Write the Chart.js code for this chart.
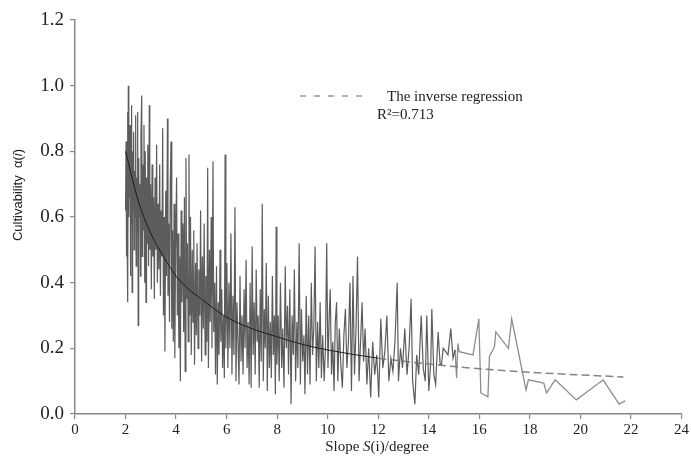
<!DOCTYPE html>
<html><head><meta charset="utf-8">
<script src="https://cdn.jsdelivr.net/npm/chart.js"></script>
<style>html,body{margin:0;padding:0;background:#fff}#wrap{width:691px;height:468px}</style>
</head><body><div id="wrap"><canvas id="c" width="691" height="468"></canvas></div>
<script>
// Slope S(i) (degree) — x values of the observed series
const slope = [
2.00,2.02,2.03,2.05,2.06,2.08,2.09,2.11,2.13,2.14,
2.16,2.18,2.19,2.21,2.23,2.24,2.26,2.28,2.30,2.32,
2.34,2.36,2.38,2.40,2.42,2.44,2.46,2.48,2.50,2.52,
2.54,2.57,2.59,2.61,2.64,2.66,2.68,2.71,2.73,2.76,
2.78,2.81,2.83,2.86,2.88,2.91,2.94,2.96,2.99,3.02,
3.05,3.08,3.11,3.14,3.17,3.20,3.23,3.26,3.29,3.32,
3.35,3.38,3.41,3.44,3.47,3.50,3.53,3.56,3.59,3.62,
3.66,3.68,3.71,3.74,3.77,3.80,3.83,3.86,3.89,3.92,
3.95,3.98,
4.02,4.05,4.08,4.11,4.14,4.17,4.20,4.23,4.27,4.30,
4.33,4.36,4.39,4.42,4.45,4.48,4.51,4.54,4.57,4.60,
4.64,4.67,4.70,4.73,4.77,4.80,4.83,4.87,4.90,4.94,
4.97,5.01,5.04,5.08,5.11,5.15,5.18,5.22,5.25,5.28,
5.32,5.35,5.39,5.42,5.46,5.49,5.53,5.56,5.60,5.63,
5.67,5.70,5.74,5.77,5.81,5.84,5.88,5.91,5.94,5.97,
6.01,6.05,6.09,6.13,6.17,6.21,6.25,6.29,6.33,6.37,
6.41,6.45,6.49,6.53,6.57,6.61,6.65,6.69,6.73,6.77,
6.81,6.85,6.89,6.93,6.97,7.01,7.05,7.09,7.13,7.17,
7.21,7.25,7.29,7.33,7.37,7.41,7.45,7.49,7.53,7.57,
7.61,7.65,7.69,7.73,7.77,7.81,7.85,7.89,7.93,7.96,
7.99,
8.04,8.08,8.13,8.18,8.22,8.27,8.32,8.36,8.41,8.45,
8.50,8.55,8.59,8.64,8.68,8.73,8.78,8.82,8.87,8.92,
8.96,9.01,9.06,9.10,9.15,9.20,9.25,9.30,9.35,9.40,
9.45,9.50,9.55,9.60,9.65,9.70,9.75,9.80,9.86,9.91,
9.96,
10.01,10.06,10.10,10.15,10.20,10.25,10.30,10.35,10.40,10.46,
10.52,10.58,10.64,10.70,10.76,10.82,10.88,10.94,11.00,11.06,
11.12,11.18,11.24,11.30,11.36,11.42,11.48,11.55,11.62,11.70,
11.78,11.86,11.94,12.02,12.10,12.18,12.26,12.34,12.42,12.50,
12.58,12.66,12.75,12.80,12.88,12.96,13.05,13.14,13.22,13.30,
13.36,13.45,13.52,13.60,13.70,13.78,13.86,13.92,14.00,14.08,
14.12,14.20,14.27,14.37,14.45,14.50,14.57,14.67,14.76,14.87,
14.96,15.04,15.10,15.15,15.20,15.75,15.98,16.06,16.34,16.40,
16.60,16.65,17.15,17.28,17.85,17.94,18.55,18.66,19.00,19.84,
20.90,21.53,21.77
];
// Cultivability α(i) — y values of the observed series
const cultivability = [
0.62,0.83,0.48,0.78,0.56,0.92,0.34,1.00,0.60,0.82,
0.66,0.88,0.42,0.76,0.58,0.94,0.37,0.80,0.62,0.86,
0.50,0.74,0.60,0.91,0.45,0.72,0.55,0.92,0.27,0.78,
0.60,0.70,0.42,0.85,0.97,0.48,0.76,0.56,0.88,0.40,
0.80,0.34,0.72,0.52,0.82,0.45,0.94,0.50,0.70,0.38,
0.76,0.48,0.66,0.35,0.72,0.50,0.82,0.40,0.64,0.44,
0.76,0.36,0.62,0.48,0.87,0.30,0.60,0.19,0.68,0.42,
0.90,0.36,0.58,0.28,0.70,0.83,0.26,0.56,0.22,0.64,
0.17,0.50,
0.72,0.30,0.55,0.20,0.48,0.10,0.62,0.34,0.58,0.25,
0.66,0.13,0.78,0.35,0.52,0.22,0.79,0.30,0.60,0.18,
0.50,0.28,0.56,0.15,0.46,0.24,0.52,0.20,0.44,0.30,
0.62,0.16,0.48,0.26,0.58,0.18,0.42,0.22,0.75,0.14,
0.50,0.28,0.60,0.20,0.77,0.25,0.40,0.12,0.45,0.09,
0.34,0.18,0.50,0.22,0.38,0.14,0.30,0.11,0.79,0.20,
0.46,0.14,0.40,0.20,0.55,0.12,0.36,0.18,0.63,0.10,
0.34,0.22,0.09,0.42,0.16,0.30,0.12,0.38,0.20,0.47,
0.14,0.28,0.09,0.40,0.08,0.51,0.18,0.34,0.12,0.44,
0.22,0.30,0.08,0.38,0.16,0.64,0.10,0.32,0.20,0.46,
0.07,0.36,0.14,0.28,0.11,0.42,0.18,0.30,0.06,0.57,
0.15,
0.30,0.10,0.40,0.14,0.26,0.08,0.45,0.20,0.33,0.12,
0.38,0.03,0.30,0.18,0.44,0.10,0.28,0.14,0.52,0.09,
0.32,0.16,0.24,0.06,0.36,0.12,0.30,0.09,0.40,0.18,
0.26,0.51,0.10,0.28,0.14,0.34,0.11,0.24,0.10,0.20,
0.52,
0.14,0.30,0.38,0.12,0.22,0.07,0.28,0.34,0.10,0.26,
0.15,0.08,0.24,0.32,0.14,0.22,0.40,0.07,0.42,0.12,
0.26,0.48,0.10,0.22,0.34,0.16,0.26,0.09,0.20,0.05,
0.22,0.12,0.18,0.05,0.29,0.14,0.19,0.30,0.10,0.17,
0.13,0.22,0.40,0.10,0.20,0.14,0.26,0.12,0.20,0.35,
0.10,0.03,0.18,0.12,0.30,0.14,0.10,0.30,0.07,0.16,
0.32,0.12,0.09,0.25,0.15,0.15,0.20,0.19,0.18,0.26,
0.17,0.195,0.11,0.215,0.19,0.18,0.29,0.064,0.052,0.175,
0.205,0.25,0.20,0.29,0.073,0.104,0.094,0.064,0.104,0.043,
0.104,0.03,0.04
];
// Inverse regression curve
const regSlope = [2.0,2.5,3.0,3.5,4.0,4.5,5.0,6.0,7.0,8.0,9.0,10.0,12.0,13.0,14.0,16.0,18.0,20.0,21.7];
const regValue = [0.80,0.65,0.55,0.48,0.42,0.38,0.35,0.295,0.26,0.235,0.212,0.195,0.17,0.161,0.152,0.138,0.127,0.119,0.113];

const xTickValues = [0,2,4,6,8,10,12,14,16,18,20,22,24];
const xTickLabels = ['0','2','4','6','8','10','12','14','16','18','20','22','24'];
const yTickValues = [0,0.2,0.4,0.6,0.8,1.0,1.2];
const yTickLabels = ['0.0','0.2','0.4','0.6','0.8','1.0','1.2'];

const legendLabel = 'The inverse regression';
const r2Label = 'R\u00B2=0.713';

const obsPoints = slope.map((x,i)=>({x:x, y:cultivability[i]}));
const regPoints = regSlope.map((x,i)=>({x:x, y:regValue[i]}));

function drawRich(ctx, parts, cx, cy, size, family){
  let total = 0;
  parts.forEach(p=>{ctx.font = p[1]+' '+size+'px '+family; total += ctx.measureText(p[0]).width;});
  let x = cx - total/2;
  ctx.textAlign='left'; ctx.textBaseline='middle';
  parts.forEach(p=>{ctx.font = p[1]+' '+size+'px '+family; ctx.fillText(p[0], x, cy); x += ctx.measureText(p[0]).width;});
}

const decor = {
  id:'decor',
  afterDraw(chart){
    const ctx = chart.ctx;
    ctx.save();
    ctx.fillStyle = '#222';
    drawRich(ctx, [['Slope ','normal'],['S','italic'],['(i)/degree','normal']], 377, 447, 15, '"Liberation Serif", serif');
    ctx.save();
    ctx.translate(18,195);
    ctx.rotate(-Math.PI/2);
    drawRich(ctx, [['Cultivability  \u03B1(','normal'],['i','italic'],[')','normal']], 0, 0, 13, '"Liberation Sans", Arial, sans-serif');
    ctx.restore();
    // legend
    ctx.strokeStyle = '#999'; ctx.lineWidth = 1.3; ctx.setLineDash([6,8]);
    ctx.beginPath(); ctx.moveTo(300,96); ctx.lineTo(370,96); ctx.stroke();
    ctx.setLineDash([]);
    ctx.font = '15px "Liberation Serif", serif';
    ctx.textAlign='left'; ctx.textBaseline='middle';
    ctx.fillText(legendLabel, 387, 97);
    ctx.fillText(r2Label, 377, 115);
    ctx.restore();
  }
};

new Chart(document.getElementById('c'), {
  type:'scatter',
  data:{datasets:[
    {label:legendLabel, data:regPoints, showLine:true, pointRadius:0, borderColor:'rgba(20,20,20,0.9)', borderWidth:1,
     cubicInterpolationMode:'monotone', order:0,
     segment:{
       borderDash:(c)=> c.p0.parsed.x >= 12 ? [8,4] : undefined,
       borderColor:(c)=> c.p0.parsed.x >= 12 ? 'rgba(120,120,120,0.9)' : undefined,
       borderWidth:(c)=> c.p0.parsed.x >= 12 ? 1.5 : undefined
     }},
    {label:'obs', data:obsPoints, showLine:true, pointRadius:0, borderColor:'rgba(0,0,0,0.64)', borderWidth:1.2, tension:0, order:1,
     segment:{
       borderColor:(c)=> c.p0.parsed.x >= 15 ? 'rgba(0,0,0,0.45)' : undefined,
       borderWidth:(c)=> c.p0.parsed.x >= 15 ? 1.3 : undefined
     }}
  ]},
  options:{
    responsive:false, animation:false, devicePixelRatio:1,
    layout:{padding:{top:20,right:7,left:0,bottom:0}},
    plugins:{legend:{display:false}, tooltip:{enabled:false}},
    scales:{
      x:{type:'linear', min:0, max:24,
        afterFit(s){ s.height = 54; },
        afterBuildTicks(s){ s.ticks = xTickValues.map(v=>({value:v})); },
        ticks:{callback:(v)=>xTickLabels[xTickValues.indexOf(v)], font:{family:'"Liberation Serif", serif', size:15}, color:'#222', padding:2, maxRotation:0, autoSkip:false},
        grid:{display:true, drawOnChartArea:false, drawTicks:true, tickLength:5, color:'#888', lineWidth:1.2},
        border:{display:true, color:'#888', width:1.5}
      },
      y:{type:'linear', min:0, max:1.2,
        afterFit(s){ s.width = 75; },
        afterBuildTicks(s){ s.ticks = yTickValues.map(v=>({value:v})); },
        ticks:{callback:(v)=>yTickLabels[yTickValues.indexOf(v)], font:{family:'"Liberation Serif", serif', size:19}, color:'#222', padding:6, autoSkip:false},
        grid:{display:true, drawOnChartArea:false, drawTicks:true, tickLength:5, color:'#888', lineWidth:1.2},
        border:{display:true, color:'#888', width:1.5}
      }
    }
  },
  plugins:[decor]
});
</script></body></html>
